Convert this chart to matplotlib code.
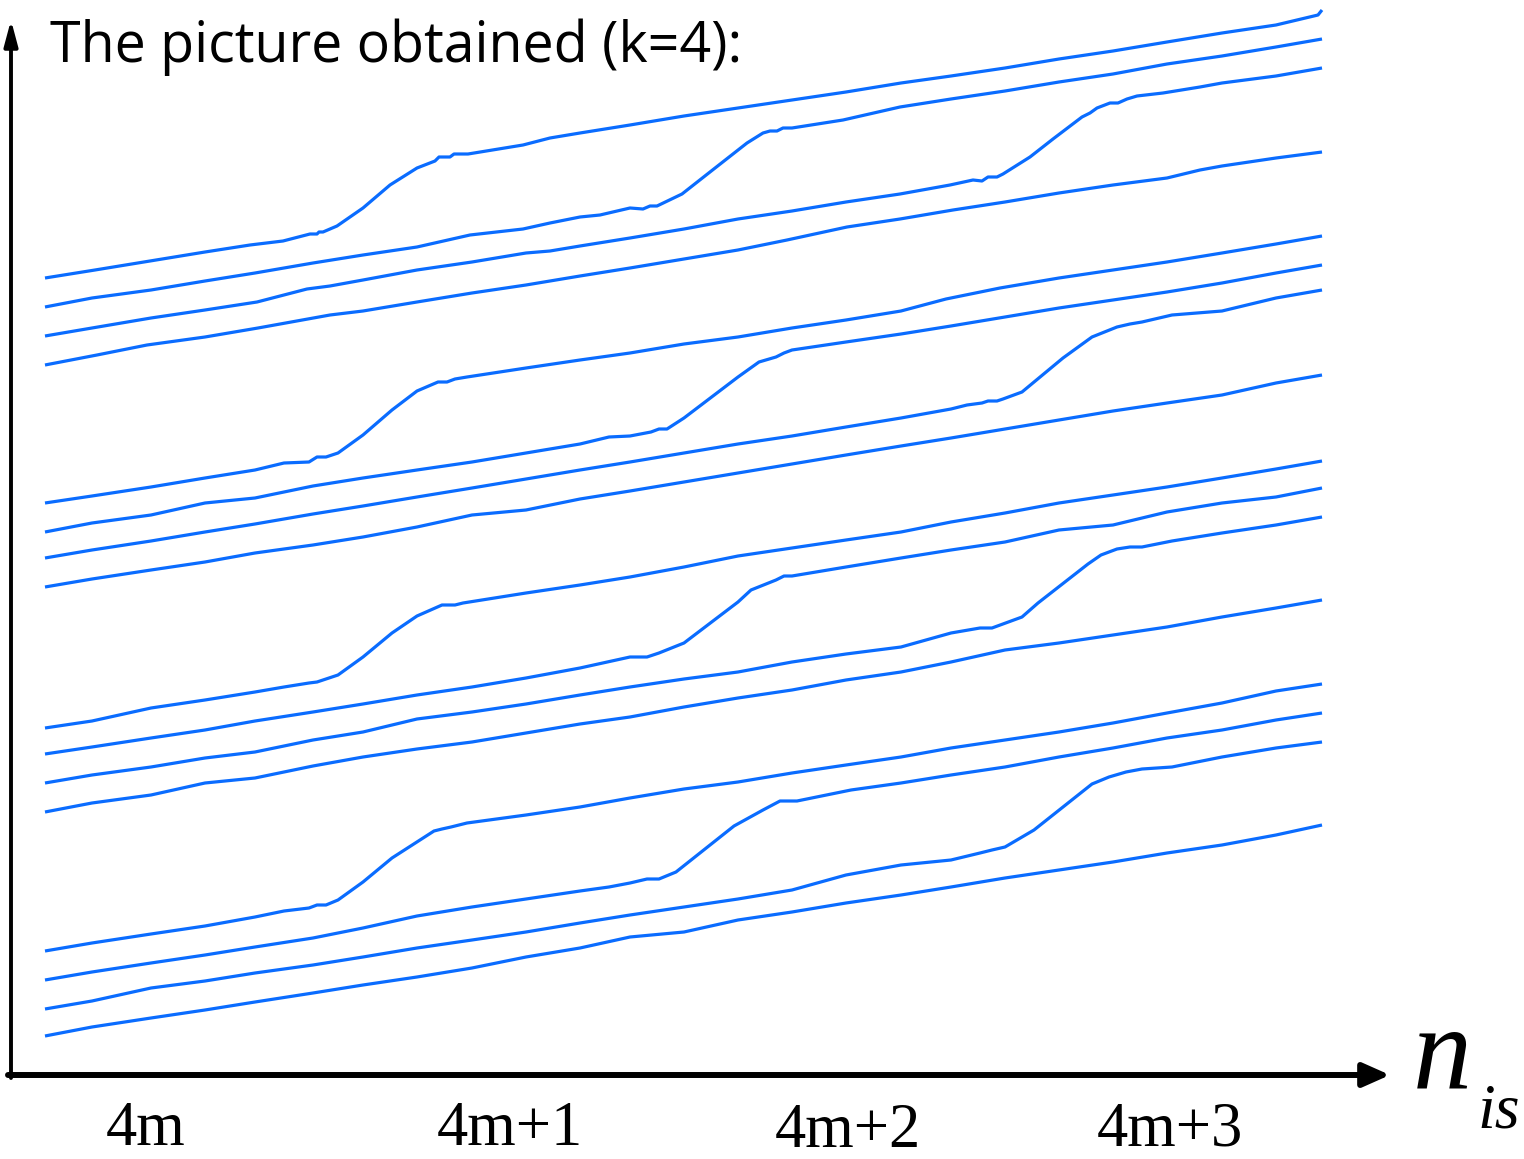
import matplotlib
matplotlib.use("Agg")
import matplotlib.pyplot as plt

# ---------------- data (x: position along n_is, y: level, screen-down units) ----------------
a1_x = [45, 95, 150, 205, 250, 283, 310, 317, 319, 323, 337, 363, 390, 417, 435, 439, 450, 454, 468, 523, 550, 580, 630, 684, 738, 792, 846, 901, 951, 1005, 1059, 1113, 1167, 1222, 1276, 1318, 1322]
a1_y = [278, 270, 261, 252, 245, 241, 234, 234, 232, 232, 226, 208, 185, 168, 161, 157, 157, 154, 154, 145, 138, 133, 125, 116, 108, 100, 92, 83, 76, 68, 59, 51, 42, 33, 25, 15, 10]
b1_x = [45, 92, 151, 205, 255, 313, 363, 417, 470, 523, 550, 580, 600, 630, 643, 650, 657, 682, 710, 747, 763, 770, 777, 783, 792, 843, 900, 951, 1005, 1059, 1113, 1167, 1222, 1276, 1322]
b1_y = [307, 298, 290, 281, 273, 263, 255, 247, 235, 229, 223, 217, 215, 208, 209, 206, 206, 194, 172, 143, 133, 131, 131, 128, 128, 120, 107, 99, 91, 82, 74, 64, 56, 47, 39]
c1_x = [45, 92, 151, 205, 257, 307, 330, 363, 417, 472, 526, 550, 580, 630, 684, 738, 792, 846, 900, 950, 973, 982, 988, 997, 1003, 1030, 1053, 1082, 1090, 1097, 1110, 1118, 1127, 1137, 1163, 1200, 1222, 1276, 1322]
c1_y = [336, 328, 318, 310, 302, 289, 286, 280, 270, 262, 253, 251, 246, 238, 229, 219, 211, 202, 194, 185, 180, 181, 177, 177, 174, 157, 139, 117, 113, 108, 103, 103, 99, 96, 93, 87, 83, 76, 68]
d1_x = [45, 97, 147, 205, 258, 330, 363, 417, 472, 526, 580, 630, 684, 738, 787, 847, 900, 953, 1005, 1059, 1113, 1167, 1200, 1222, 1276, 1322]
d1_y = [365, 355, 345, 337, 328, 315, 311, 302, 293, 285, 276, 268, 259, 250, 240, 227, 219, 210, 202, 193, 185, 178, 170, 166, 158, 152]

a2_x = [45, 92, 151, 205, 255, 284, 309, 317, 326, 338, 363, 392, 417, 438, 447, 455, 467, 526, 580, 630, 684, 738, 792, 846, 901, 946, 1000, 1059, 1113, 1167, 1222, 1276, 1322]
a2_y = [503, 496, 487, 478, 470, 463, 462, 457, 457, 453, 435, 410, 391, 382, 382, 379, 377, 368, 360, 353, 344, 337, 328, 320, 311, 299, 288, 278, 270, 262, 253, 244, 236]
b2_x = [45, 92, 151, 205, 255, 313, 363, 417, 472, 526, 580, 609, 630, 651, 659, 667, 684, 738, 759, 776, 784, 792, 846, 901, 951, 1005, 1059, 1113, 1167, 1222, 1276, 1322]
b2_y = [532, 523, 515, 503, 498, 486, 478, 470, 462, 453, 444, 437, 436, 432, 429, 429, 418, 377, 362, 357, 353, 350, 342, 334, 326, 317, 308, 300, 292, 283, 273, 265]
c2_x = [45, 92, 151, 205, 255, 313, 363, 417, 472, 526, 580, 630, 684, 738, 792, 846, 901, 951, 967, 982, 988, 997, 1003, 1022, 1063, 1092, 1117, 1130, 1142, 1172, 1222, 1276, 1322]
c2_y = [558, 550, 541, 532, 524, 514, 506, 497, 488, 479, 470, 462, 453, 444, 436, 427, 418, 409, 405, 403, 401, 401, 399, 392, 358, 337, 327, 324, 322, 315, 311, 298, 290]
d2_x = [45, 92, 151, 205, 255, 313, 363, 417, 472, 526, 580, 630, 684, 738, 792, 846, 901, 951, 1005, 1059, 1113, 1167, 1222, 1276, 1322]
d2_y = [587, 579, 570, 562, 553, 545, 537, 527, 515, 510, 499, 491, 482, 473, 464, 455, 446, 438, 429, 420, 411, 403, 395, 383, 375]

a3_x = [45, 92, 151, 205, 255, 284, 309, 317, 338, 363, 392, 417, 442, 455, 463, 526, 580, 630, 684, 738, 792, 846, 901, 951, 1005, 1059, 1113, 1167, 1222, 1276, 1322]
a3_y = [728, 721, 708, 700, 692, 687, 683, 682, 675, 657, 633, 616, 605, 605, 603, 593, 585, 577, 567, 556, 548, 540, 532, 522, 513, 503, 495, 487, 478, 469, 461]
b3_x = [45, 92, 151, 205, 255, 313, 363, 417, 472, 526, 580, 630, 647, 659, 684, 738, 751, 776, 784, 792, 846, 901, 951, 1005, 1059, 1113, 1167, 1222, 1276, 1322]
b3_y = [754, 747, 738, 730, 721, 712, 704, 695, 687, 678, 668, 657, 657, 653, 643, 602, 590, 580, 576, 576, 567, 558, 550, 542, 530, 525, 512, 503, 497, 488]
c3_x = [45, 92, 151, 205, 255, 313, 363, 417, 472, 526, 580, 630, 684, 738, 792, 846, 901, 951, 980, 992, 1022, 1038, 1088, 1101, 1117, 1130, 1142, 1172, 1222, 1276, 1322]
c3_y = [783, 775, 767, 758, 752, 740, 732, 719, 712, 704, 695, 687, 679, 672, 662, 654, 647, 633, 628, 628, 617, 603, 564, 555, 549, 547, 547, 541, 533, 525, 517]
d3_x = [45, 92, 151, 205, 255, 313, 363, 417, 472, 526, 580, 630, 684, 738, 792, 846, 901, 951, 1005, 1059, 1113, 1167, 1222, 1276, 1322]
d3_y = [812, 803, 795, 783, 778, 766, 757, 749, 742, 733, 724, 717, 707, 698, 690, 680, 672, 662, 650, 643, 635, 627, 617, 608, 600]

a4_x = [45, 92, 151, 205, 255, 284, 309, 317, 326, 338, 363, 392, 434, 442, 451, 467, 526, 580, 630, 684, 738, 792, 846, 901, 951, 1005, 1059, 1113, 1167, 1222, 1276, 1322]
a4_y = [951, 943, 934, 926, 917, 911, 908, 905, 905, 900, 882, 858, 831, 829, 827, 823, 815, 807, 798, 789, 782, 773, 765, 757, 748, 740, 732, 723, 713, 703, 691, 684]
b4_x = [45, 92, 151, 205, 255, 313, 363, 417, 472, 526, 580, 609, 630, 647, 659, 676, 734, 763, 780, 797, 851, 901, 951, 1005, 1059, 1113, 1167, 1222, 1276, 1322]
b4_y = [980, 972, 963, 955, 947, 938, 928, 916, 907, 899, 891, 887, 883, 879, 879, 872, 826, 810, 801, 801, 790, 783, 775, 767, 757, 748, 738, 730, 720, 713]
c4_x = [45, 92, 151, 205, 255, 313, 363, 417, 472, 526, 580, 630, 684, 738, 792, 846, 901, 951, 980, 992, 1005, 1034, 1092, 1109, 1126, 1142, 1172, 1222, 1276, 1322]
c4_y = [1009, 1001, 988, 981, 973, 965, 957, 948, 940, 932, 923, 915, 907, 899, 890, 875, 865, 860, 853, 850, 847, 830, 784, 777, 772, 769, 767, 757, 748, 742]
d4_x = [45, 92, 151, 205, 255, 313, 363, 417, 472, 526, 580, 630, 684, 738, 792, 846, 901, 951, 1005, 1059, 1113, 1167, 1222, 1276, 1322]
d4_y = [1036, 1027, 1018, 1010, 1002, 993, 985, 977, 968, 957, 948, 937, 932, 920, 912, 903, 895, 887, 878, 870, 862, 853, 845, 835, 825]

tick_labels = ["4m", "4m+1", "4m+2", "4m+3"]
tick_pos = [146, 510, 848, 1170]
title_text = "The picture obtained (k=4):"

# ---------------- figure ----------------
W, H = 1524, 1159
fig = plt.figure(figsize=(W / 100, H / 100), dpi=100)
ax = fig.add_axes([0, 0, 1, 1])
ax.set_xlim(0, W)
ax.set_ylim(H, 0)
ax.axis("off")

blue = "#0A6CFF"
series = [(a1_x, a1_y), (b1_x, b1_y), (c1_x, c1_y), (d1_x, d1_y),
          (a2_x, a2_y), (b2_x, b2_y), (c2_x, c2_y), (d2_x, d2_y),
          (a3_x, a3_y), (b3_x, b3_y), (c3_x, c3_y), (d3_x, d3_y),
          (a4_x, a4_y), (b4_x, b4_y), (c4_x, c4_y), (d4_x, d4_y)]
for xs, ys in series:
    ax.plot(xs, ys, color=blue, lw=2.3, solid_capstyle="butt", solid_joinstyle="round")

# axes arrows
ax.annotate("", xy=(1390, 1075), xytext=(8, 1075),
            arrowprops=dict(arrowstyle="-|>,head_length=0.45,head_width=0.2",
                            lw=4.3, color="black", mutation_scale=36,
                            shrinkA=0, shrinkB=0))
ax.annotate("", xy=(11, 20), xytext=(11, 1078),
            arrowprops=dict(arrowstyle="-|>,head_length=0.45,head_width=0.12",
                            lw=2.8, color="black", mutation_scale=34,
                            shrinkA=0, shrinkB=0))

# title
ax.text(50, 62, title_text, fontsize=40, family="Open Sans", color="black",
        ha="left", va="baseline")

# tick labels
tick_base = [1145, 1145, 1147, 1145]
for lab, xp, yb in zip(tick_labels, tick_pos, tick_base):
    ax.text(xp, yb, lab, fontsize=45, family="Liberation Serif",
            ha="center", va="baseline", color="black")

# axis label n_is
ax.text(1413, 1088, "n", fontsize=85, family="Liberation Serif", style="italic",
        ha="left", va="baseline", color="black")
ax.text(1477, 1128, "is", fontsize=46, family="Liberation Serif", style="italic",
        ha="left", va="baseline", color="black")

fig.savefig("out.png", dpi=100)
